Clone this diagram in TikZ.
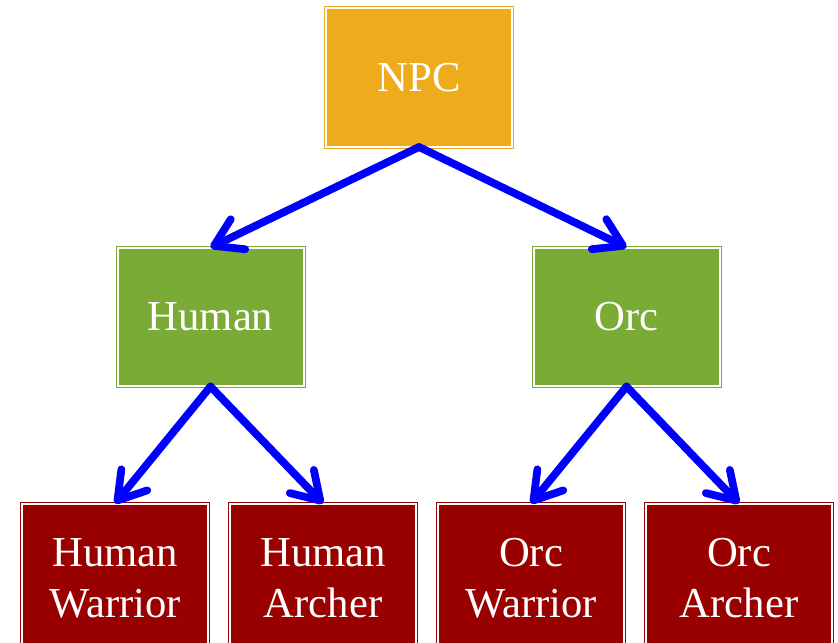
\documentclass[tikz,border=0pt]{standalone}
\usepackage{fontspec}
\setmainfont{Liberation Serif}
\usetikzlibrary{arrows.meta}
\definecolor{npcc}{RGB}{238,172,28}
\definecolor{grn}{RGB}{122,171,54}
\definecolor{rd}{RGB}{153,0,0}
\definecolor{arr}{RGB}{0,0,255}
\tikzset{
  box/.style={draw=#1, fill=#1, line width=0.75pt, double=white, double distance=1.5pt,
    minimum width=139.5pt, minimum height=103.5pt, inner sep=0pt, text=white,
    align=center, font=\fontsize{32}{38.3}\selectfont},
  tall/.style={minimum height=111pt},
  link/.style={draw=arr, line width=5.8pt, line cap=round,
    -{Straight Barb[length=20pt,width=25pt,line cap=round,line join=round]}}
}
\begin{document}
\begin{tikzpicture}[x=0.75pt,y=-0.75pt]
\useasboundingbox (0,0) rectangle (838,642);
\node[box=npcc] (npc) at (419,77.5) {NPC};
\node[box=grn] (human) at (210.5,317) {Human};
\node[box=grn] (orc) at (626.5,317) {Orc};
\node[box=rd,tall] (hw) at (115,578) {Human\\Warrior};
\node[box=rd,tall] (ha) at (323,578) {Human\\Archer};
\node[box=rd,tall] (ow) at (531,578) {Orc\\Warrior};
\node[box=rd,tall] (oa) at (739,578) {Orc\\Archer};
\draw[link] (npc.south) -- (human.north);
\draw[link] (npc.south) -- (orc.north);
\draw[link] (human.south) -- (hw.north);
\draw[link] (human.south) -- (ha.north);
\draw[link] (orc.south) -- (ow.north);
\draw[link] (orc.south) -- (oa.north);
\end{tikzpicture}
\end{document}
